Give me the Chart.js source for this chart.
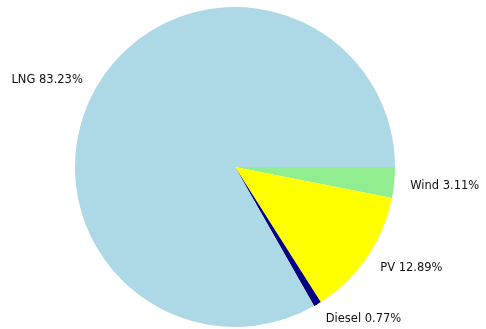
<!DOCTYPE html>
<html>
<head>
<meta charset="utf-8">
<script src="https://cdn.jsdelivr.net/npm/chart.js@4"></script>
<style>
  html, body { margin: 0; padding: 0; background: #fff; }
  #wrap { width: 486px; height: 329px; }
</style>
</head>
<body>
<div id="wrap"><canvas id="energyPie"></canvas></div>
<script>
// Generation share by source (percent)
const sources = ['Wind', 'PV', 'Diesel', 'LNG'];
const shares = [3.11, 12.89, 0.77, 83.23];
const sliceColors = ['#90ee90', '#ffff00', '#000080', '#add8e6'];

// Draw "Name xx.xx%" just outside each slice
const outsideLabels = {
    id: 'outsideLabels',
    afterDraw(chart) {
        const ctx = chart.ctx;
        const meta = chart.getDatasetMeta(0);
        ctx.save();
        ctx.font = '11.5px "DejaVu Sans"';
        ctx.fillStyle = '#111';
        ctx.textBaseline = 'middle';
        meta.data.forEach((arc, i) => {
            const p = arc.getProps(['x', 'y', 'startAngle', 'endAngle', 'outerRadius'], true);
            const mid = (p.startAngle + p.endAngle) / 2;
            const r = p.outerRadius * 1.1;
            const x = p.x + Math.cos(mid) * r;
            const y = p.y + Math.sin(mid) * r + 1.5;
            ctx.textAlign = Math.cos(mid) >= 0 ? 'left' : 'right';
            ctx.fillText(sources[i] + ' ' + shares[i].toFixed(2) + '%', x, y);
        });
        ctx.restore();
    }
};

new Chart(document.getElementById('energyPie'), {
    type: 'pie',
    data: {
        labels: sources,
        datasets: [{
            data: shares,
            backgroundColor: sliceColors,
            borderWidth: 0
        }]
    },
    options: {
        responsive: true,
        maintainAspectRatio: false,
        animation: false,
        rotation: 90,
        layout: { padding: { left: 75, right: 91, top: 7, bottom: 2 } },
        plugins: {
            legend: { display: false },
            tooltip: { enabled: false }
        }
    },
    plugins: [outsideLabels]
});
</script>
</body>
</html>
